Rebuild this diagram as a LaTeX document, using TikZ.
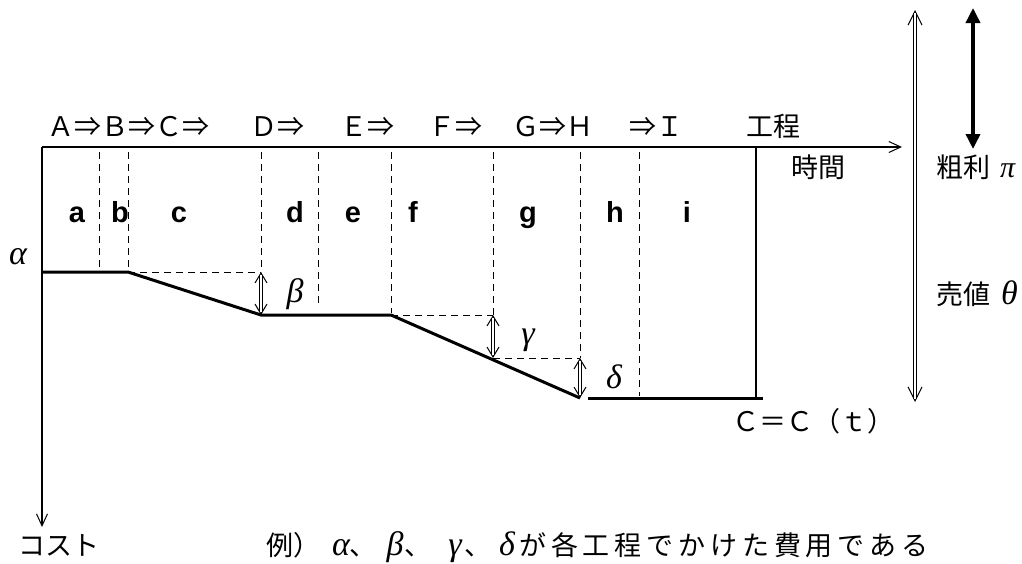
\documentclass[tikz,border=0pt]{standalone}
\usepackage{fontspec}
\setmainfont{Liberation Sans}
\newfontfamily\jp{Noto Sans CJK JP}
\newfontfamily\grk{Liberation Serif}
\usetikzlibrary{arrows.meta}
\begin{document}
\begin{tikzpicture}[x=1pt,y=-1pt,
  jp/.style={font=\jp\fontsize{27}{30}\selectfont, inner sep=0pt, anchor=base west},
  lbl/.style={font=\bfseries\fontsize{29}{32}\selectfont, inner sep=0pt, anchor=base},
  gr/.style={font=\grk\itshape\fontsize{34}{38}\selectfont, inner sep=0pt},
  grb/.style={font=\grk\itshape\fontsize{34}{38}\selectfont, inner sep=0pt, anchor=base},
  axis/.style={line width=1.2pt, -{Straight Barb[length=12pt,width=11pt,line width=1pt]}},
  thin/.style={line width=1.2pt},
  cost/.style={line width=3pt},
  dsh/.style={line width=1pt, dash pattern=on 7pt off 5pt},
  tipsS/.style={line width=1pt, {Straight Barb[length=10pt,width=12pt,line width=1pt]}-{Straight Barb[length=10pt,width=12pt,line width=1pt]}},
  tipsL/.style={line width=1pt, {Straight Barb[length=14pt,width=14pt,line width=1pt]}-{Straight Barb[length=14pt,width=14pt,line width=1pt]}},
  shaft/.style={double, double distance=2.6pt, line width=1pt, shorten <=3pt, shorten >=3pt},
  thickarr/.style={line width=3.5pt, {Triangle[length=15pt,width=14pt]}-{Triangle[length=15pt,width=14pt]}}
]
\fill[white] (0,0) rectangle (1022,563);
\useasboundingbox (0,0) rectangle (1022,563);

% key coordinates
\coordinate (O) at (42,147);
\coordinate (tEnd) at (902,147);
\coordinate (cEnd) at (42,527);
\coordinate (p1) at (42,272);
\coordinate (p2) at (128,272);
\coordinate (p3) at (261,315);
\coordinate (p4) at (391,315);
\coordinate (p5) at (580,398);
\coordinate (p6) at (588,398);
\coordinate (p7) at (763,398);
\coordinate (b1) at (261,272);
\coordinate (g1) at (493,315);
\coordinate (g2) at (493,358);
\coordinate (d1) at (580,358);

% axes
\draw[axis] (O) -- (tEnd);
\draw[axis] (O) -- (cEnd);
\draw[thin] (756,147) -- (756,398);

% dashed verticals
\foreach \x/\yb in {99/268,128/268,261/272,318/307,391/313,493/315,580/358,639/396}
  \draw[dsh] (\x,152) -- (\x,\yb);
% dashed horizontals
\draw[dsh] (p2) -- (b1);
\draw[dsh] (p4) -- (g1);
\draw[dsh] (g2) -- (d1);

% cost curve
\draw[cost] (p1) -- (p2) -- (p3) -- (p4) -- (p5);
\draw[cost] (p6) -- (p7);

% double arrows
\foreach \a/\b in {b1/p3,g1/g2,d1/p5}{
  \draw[tipsS] (\a) -- (\b);
  \draw[shaft] (\a) -- (\b);
}
\coordinate (r1) at (915,10);
\coordinate (r2) at (915,402);
\draw[tipsL] (r1) -- (r2);
\draw[shaft] (r1) -- (r2);
\coordinate (k1) at (973,8);
\coordinate (k2) at (973,149);
\draw[thickarr] (k1) -- (k2);

% top row
\node[jp] (tA) at (47,136) {Ａ⇒Ｂ⇒Ｃ⇒};
\node[jp] (tD) at (250,136) {Ｄ⇒};
\node[jp] (tE) at (340,136) {Ｅ⇒};
\node[jp] (tF) at (428,136) {Ｆ⇒};
\node[jp] (tG) at (512,136) {Ｇ⇒Ｈ};
\node[jp] (tI) at (629,136) {⇒Ｉ};
\node[jp] (tK) at (746,136) {工程};

% section letters
\foreach \n/\x in {a/77,b/120,c/179,d/295,e/353,f/413,g/528,h/615,i/687}
  \node[lbl] (s\n) at (\x,222) {\n};

% greek labels
\node[gr] (la) at (18,257) {α};
\node[gr] (lb) at (295,294) {β};
\node[gr] (lg) at (528,340) {γ};
\node[gr] (ld) at (614,377) {δ};

% right labels
\node[jp] (jikan) at (791,177) {時間};
\node[jp] (arari) at (936,177) {粗利};
\node[gr, font=\grk\itshape\fontsize{30}{34}\selectfont, anchor=base west] (pi) at (1000,177) {π};
\node[jp] (urine) at (936,304) {売値};
\node[gr, anchor=base west] (th) at (1001,304) {θ};
\node[jp] (cct) at (732,431) {Ｃ＝Ｃ（ｔ）};
\node[jp] (kosuto) at (18,555) {コスト};

% bottom note
\node[jp] (rei) at (266,555) {例）};
\node[grb] (na) at (341,555) {α};
\node[jp] (c1) at (349,555) {、};
\node[grb] (nb) at (395,555) {β};
\node[jp] (c2) at (404,555) {、};
\node[grb] (ng) at (455,555) {γ};
\node[jp] (c3) at (464,555) {、};
\node[grb] (nd) at (507,555) {δ};
\node[jp] (rest) at (519,555) {\addfontfeature{LetterSpace=18}が各工程でかけた費用である};
\end{tikzpicture}
\end{document}
